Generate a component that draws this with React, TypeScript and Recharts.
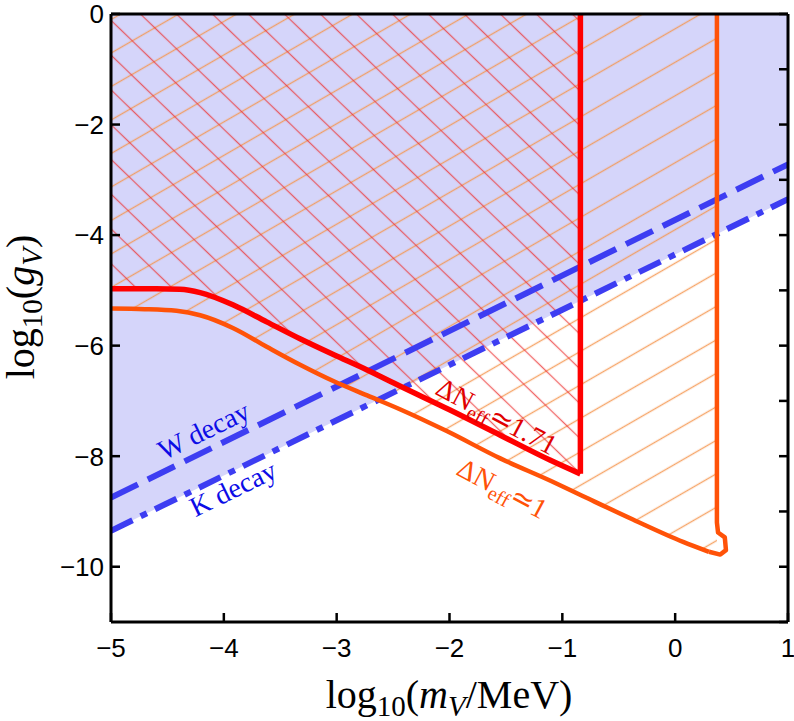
import React from 'react';
import { ComposedChart, Area, Line, XAxis, YAxis, ReferenceDot } from 'recharts';

// log10(m_V / MeV) range and tick values
const xTicks = [-5, -4, -3, -2, -1, 0, 1];
const yTicksLeft = [-10, -8, -6, -4, -2, 0];
const yTicksRight = [-11, -10, -9, -8, -7, -6, -5, -4, -3, -2, -1, 0];

// straight decay bounds, given at both ends of the mass range
const decayX = [-5, 1];
const wDecayY = [-8.75, -2.72];
const kDecayY = [-9.35, -3.35];

// Delta N_eff ~ 1.71 boundary (red)
const redX = [-5, -4.6, -4.39, -4.21, -3.92, -3.62, -3.32, -3.03, -2.73, -2.44, -2.0, -1.55, -1.11, -0.84];
const redY = [-4.97, -4.97, -4.98, -5.04, -5.26, -5.57, -5.88, -6.16, -6.44, -6.73, -7.16, -7.62, -8.07, -8.32];
const redEdgeX = -0.84;

// Delta N_eff ~ 1 boundary (orange)
const orangeX = [-5, -4.7, -4.42, -4.21, -3.92, -3.62, -3.32, -3.03, -2.73, -2.44, -2.02, -1.55, -1.1, -0.82, -0.37, 0.07, 0.3];
const orangeY = [-5.33, -5.34, -5.37, -5.45, -5.68, -6.02, -6.35, -6.64, -6.9, -7.15, -7.55, -8.04, -8.45, -8.72, -9.15, -9.55, -9.73];
const orangeHookX = [0.3, 0.4, 0.45, 0.44, 0.38, 0.37];
const orangeHookY = [-9.73, -9.78, -9.7, -9.47, -9.38, -9.2];
const orangeEdgeX = 0.37;

const TOP = 0;
const BLUE = '#3d3df2';
const RED = '#ff0000';
const ORANGE = '#ff5208';
const serif = '"Liberation Serif", "Times New Roman", serif';
const sans = '"Liberation Sans", Arial, sans-serif';

const blueRows = decayX.map((x, i) => ({ x, range: [kDecayY[i], TOP] }));
const wRows = decayX.map((x, i) => ({ x, y: wDecayY[i] }));
const kRows = decayX.map((x, i) => ({ x, y: kDecayY[i] }));

const redRows = redX.map((x, i) => ({ x, range: [redY[i], TOP] }));
const redCurve = redX.map((x, i) => ({ x, y: redY[i] }));
const redEdge = [{ x: redEdgeX, y: redY[redY.length - 1] }, { x: redEdgeX, y: TOP }];

const orangeRows = [
  ...orangeX.map((x, i) => ({ x, range: [orangeY[i], TOP] })),
  { x: orangeEdgeX, range: [orangeHookY[1], TOP] },
];
const orangeCurve = orangeX.map((x, i) => ({ x, y: orangeY[i] }));
const orangeEdge = [...orangeHookX.map((x, i) => ({ x, y: orangeHookY[i] })), { x: orangeEdgeX, y: TOP }];

const fmt = (v: number) => (v < 0 ? '\u2212' + Math.abs(v) : String(v));

const BottomTick = (p: any) => (
  <g>
    <line x1={p.x} x2={p.x} y1={p.y} y2={p.y - 9} stroke="#000" strokeWidth={2.5} />
    <text x={p.x} y={p.y + 35} textAnchor="middle" fontSize={26} fontFamily={sans} fill="#000">
      {fmt(p.payload.value)}
    </text>
  </g>
);

const LeftTick = (p: any) => (
  <g>
    <line x1={p.x} x2={p.x + 9} y1={p.y} y2={p.y} stroke="#000" strokeWidth={2.5} />
    <text x={p.x - 7} y={p.y} dy="0.36em" textAnchor="end" fontSize={26} fontFamily={sans} fill="#000">
      {fmt(p.payload.value)}
    </text>
  </g>
);

const RightTick = (p: any) => (
  <line x1={p.x} x2={p.x - 9} y1={p.y} y2={p.y} stroke="#000" strokeWidth={2.5} />
);

const note = (angle: number, color: string, children: React.ReactNode) => (p: any) => (
  <text
    x={p.cx}
    y={p.cy}
    dy="0.35em"
    textAnchor="middle"
    transform={`rotate(${angle} ${p.cx} ${p.cy})`}
    fontFamily={serif}
    fontSize={28}
    fill={color}
  >
    {children}
  </text>
);

const neff = (value: string) => (
  <>
    <tspan>ΔN</tspan>
    <tspan fontSize={20} dy={6}>eff</tspan>
    <tspan dy={-6}>≃{value}</tspan>
  </>
);

const noDot = { dot: false, activeDot: false, isAnimationActive: false } as const;

export default function App() {
  const frame = { stroke: '#000', strokeWidth: 3 };
  return (
    <div style={{ position: 'absolute', left: 0, top: 0, background: '#fff' }}>
      <ComposedChart width={794} height={721} margin={{ top: 13, right: 5, bottom: 59, left: 51 }}>
        <defs>
          <pattern id="redHatch" patternUnits="userSpaceOnUse" width={25} height={25} patternTransform="rotate(-46)">
            <line x1={12.5} y1={0} x2={12.5} y2={25} stroke="#ec3434" strokeWidth={1.3} strokeOpacity={0.75} />
          </pattern>
          <pattern id="orangeHatch" patternUnits="userSpaceOnUse" width={29} height={29} patternTransform="rotate(60)">
            <line x1={14.5} y1={0} x2={14.5} y2={29} stroke="#f5964f" strokeWidth={1.4} strokeOpacity={0.85} />
          </pattern>
        </defs>

        <XAxis type="number" dataKey="x" domain={[-5, 1]} ticks={xTicks} allowDataOverflow height={40}
          tickSize={0} tickMargin={0} tickLine={false} axisLine={frame} tick={BottomTick} />
        <XAxis xAxisId="top" orientation="top" type="number" dataKey="x" domain={[-5, 1]} allowDataOverflow
          height={1} tickSize={0} tick={false} tickLine={false} axisLine={frame} />
        <YAxis type="number" domain={[-11, 0]} ticks={yTicksLeft} allowDataOverflow width={60}
          tickSize={0} tickMargin={0} tickLine={false} axisLine={frame} tick={LeftTick} />
        <YAxis yAxisId="right" orientation="right" type="number" domain={[-11, 0]} ticks={yTicksRight}
          allowDataOverflow width={1} tickSize={0} tickMargin={0} tickLine={false} axisLine={frame} tick={RightTick} />

        <Area data={blueRows} dataKey="range" type="linear" stroke="none" fill="#d5d5fa" fillOpacity={1} isAnimationActive={false} />
        <Area data={orangeRows} dataKey="range" type="monotone" stroke="none" fill="url(#orangeHatch)" fillOpacity={1} isAnimationActive={false} />
        <Area data={redRows} dataKey="range" type="monotone" stroke="none" fill="url(#redHatch)" fillOpacity={1} isAnimationActive={false} />

        <Line data={wRows} dataKey="y" type="linear" stroke={BLUE} strokeWidth={6} strokeDasharray="30 11" {...noDot} />
        <Line data={kRows} dataKey="y" type="linear" stroke={BLUE} strokeWidth={6} strokeDasharray="24 9 7 9" {...noDot} />
        <Line data={orangeCurve} dataKey="y" type="monotone" stroke={ORANGE} strokeWidth={4.5} {...noDot} />
        <Line data={orangeEdge} dataKey="y" type="linear" stroke={ORANGE} strokeWidth={4.5} strokeLinejoin="round" {...noDot} />
        <Line data={redCurve} dataKey="y" type="monotone" stroke={RED} strokeWidth={5.5} {...noDot} />
        <Line data={redEdge} dataKey="y" type="linear" stroke={RED} strokeWidth={5.5} {...noDot} />

        <ReferenceDot x={-4.18} y={-7.53} r={0} shape={note(-26, '#0c0ce6', 'W decay')} />
        <ReferenceDot x={-3.92} y={-8.58} r={0} shape={note(-26, '#0c0ce6', 'K decay')} />
        <ReferenceDot x={-1.58} y={-7.27} r={0} shape={note(28, '#e00000', neff('1.71'))} />
        <ReferenceDot x={-1.53} y={-8.58} r={0} shape={note(28, ORANGE, neff('1'))} />

        <text x={449} y={708} textAnchor="middle" fontFamily={serif} fontSize={40} fill="#000">
          log<tspan fontSize={29} dy={8}>10</tspan>
          <tspan dy={-8}>(</tspan>
          <tspan fontStyle="italic">m</tspan>
          <tspan fontStyle="italic" fontSize={29} dy={8}>V</tspan>
          <tspan dy={-8}>/MeV)</tspan>
        </text>
        <g transform="translate(34 307) rotate(-90)">
          <text x={0} y={0} textAnchor="middle" fontFamily={serif} fontSize={40} fill="#000">
            log<tspan fontSize={29} dy={8}>10</tspan>
            <tspan dy={-8}>(</tspan>
            <tspan fontStyle="italic">g</tspan>
            <tspan fontStyle="italic" fontSize={29} dy={8}>V</tspan>
            <tspan dy={-8}>)</tspan>
          </text>
        </g>
      </ComposedChart>
    </div>
  );
}
